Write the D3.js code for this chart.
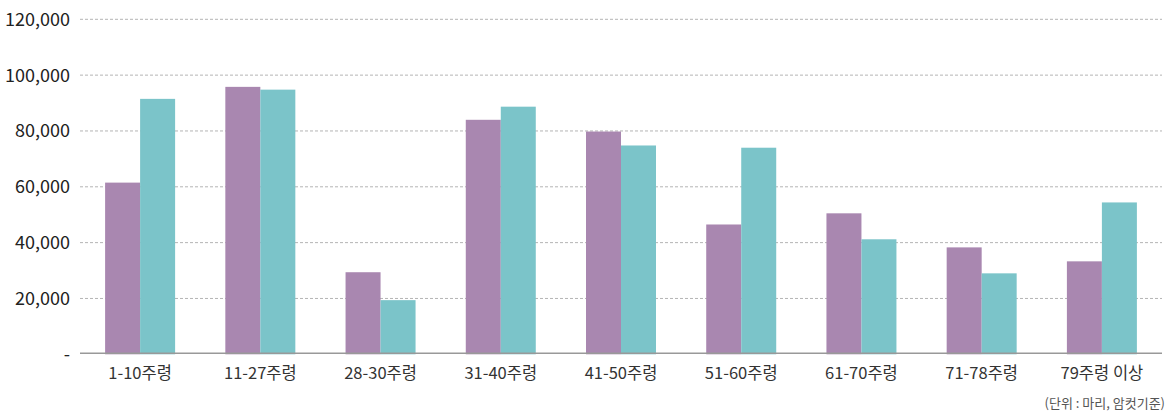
<!DOCTYPE html>
<html>
<head>
<meta charset="utf-8">
<script src="https://cdn.jsdelivr.net/npm/d3@7"></script>
<style>
  body { margin: 0; background: #fff; }
  text { font-family: "Noto Sans CJK KR", "Noto Sans", sans-serif; }
</style>
</head>
<body>
<div id="chart"></div>
<script>
'use strict';

// data ---------------------
const categories = ['1-10주령', '11-27주령', '28-30주령', '31-40주령', '41-50주령',
                    '51-60주령', '61-70주령', '71-78주령', '79주령 이상']
const series1 = [61500, 95800, 29400, 84000, 79800, 46500, 50500, 38300, 33300]
const series2 = [91500, 94800, 19400, 88700, 74800, 74000, 41200, 29000, 54400]
const yTicks = [0, 20000, 40000, 60000, 80000, 100000, 120000]

const width = 1170
const height = 413
const padLeft = 80, padRight = 1162, padTop = 19.3, padBottom = 354.3
const purple = '#a987b0'
const teal = '#7bc4c9'

var svg = d3.select('#chart').append('svg')
    .attr('width', width)
    .attr('height', height)

var x = d3.scaleBand().domain(categories).range([padLeft, padRight])
var inner = d3.scaleBand().domain([0, 1]).range([0, 70])
var y = d3.scaleLinear().domain([0, 120000]).range([padBottom, padTop])

// gridlines
svg.append('g').selectAll('line')
    .data(yTicks.slice(1))
    .enter().append('line')
    .attr('x1', padLeft).attr('x2', padRight)
    .attr('y1', function(d){return y(d)})
    .attr('y2', function(d){return y(d)})
    .attr('stroke', '#b4b4b4')
    .attr('stroke-width', 1)
    .attr('stroke-dasharray', '3,2')

// y tick labels
svg.append('g').selectAll('text')
    .data(yTicks)
    .enter().append('text')
    .attr('x', 70)
    .attr('y', function(d){return y(d)})
    .attr('dy', '0.36em')
    .attr('text-anchor', 'end')
    .attr('font-size', 18)
    .attr('fill', '#222')
    .text(function(d){return d == 0 ? '-' : d3.format(',')(d)})

// bars
var groups = svg.append('g').selectAll('g')
    .data(categories)
    .enter().append('g')
    .attr('transform', function(d){return 'translate(' + (x(d) + x.bandwidth()/2 - 35) + ',0)'})

groups.append('rect')
    .attr('x', inner(0))
    .attr('width', inner.bandwidth())
    .attr('y', function(d, i){return y(series1[i])})
    .attr('height', function(d, i){return padBottom - y(series1[i])})
    .attr('fill', purple)

groups.append('rect')
    .attr('x', inner(1))
    .attr('width', inner.bandwidth())
    .attr('y', function(d, i){return y(series2[i])})
    .attr('height', function(d, i){return padBottom - y(series2[i])})
    .attr('fill', teal)

// baseline
svg.append('line')
    .attr('x1', padLeft).attr('x2', padRight)
    .attr('y1', padBottom - 1).attr('y2', padBottom - 1)
    .attr('stroke', '#999')
    .attr('stroke-width', 1.5)

// x labels
svg.append('g').selectAll('text')
    .data(categories)
    .enter().append('text')
    .attr('x', function(d){return x(d) + x.bandwidth()/2})
    .attr('y', 379)
    .attr('text-anchor', 'middle')
    .attr('font-size', 16.5)
    .attr('fill', '#333')
    .text(function(d){return d})

// unit note
svg.append('text')
    .attr('x', 1165)
    .attr('y', 408)
    .attr('text-anchor', 'end')
    .attr('font-size', 13)
    .attr('fill', '#555')
    .text('(단위 : 마리, 암컷기준)')
</script>
</body>
</html>
